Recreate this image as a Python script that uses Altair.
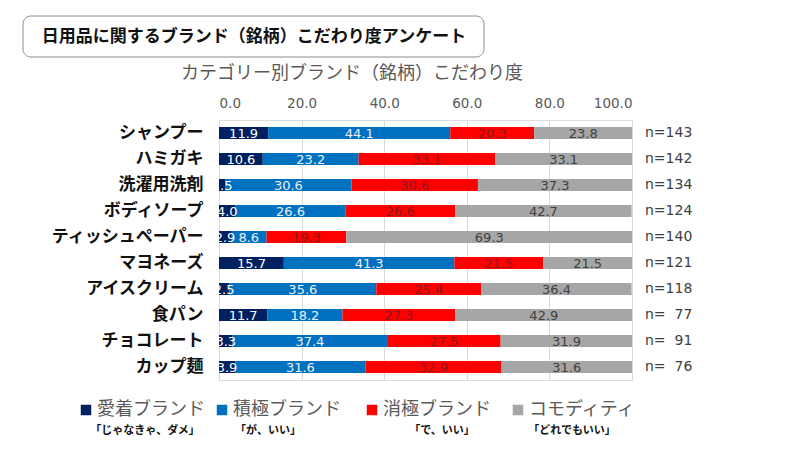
import altair as alt
import pandas as pd

categories = ["シャンプー", "ハミガキ", "洗濯用洗剤", "ボディソープ", "ティッシュペーパー",
              "マヨネーズ", "アイスクリーム", "食パン", "チョコレート", "カップ麺"]
series = ["愛着ブランド", "積極ブランド", "消極ブランド", "コモディティ"]
sublabels = ["「じゃなきゃ、ダメ」", "「が、いい」", "「で、いい」", "「どれでもいい」"]
aichaku = [11.9, 10.6, 1.5, 4.0, 2.9, 15.7, 2.5, 11.7, 3.3, 3.9]
sekkyoku = [44.1, 23.2, 30.6, 26.6, 8.6, 41.3, 35.6, 18.2, 37.4, 31.6]
shokyoku = [20.3, 33.1, 30.6, 26.6, 19.3, 21.5, 25.4, 27.3, 27.5, 32.9]
commodity = [23.8, 33.1, 37.3, 42.7, 69.3, 21.5, 36.4, 42.9, 31.9, 31.6]
n_values = [143, 142, 134, 124, 140, 121, 118, 77, 91, 76]

colors = ["#002060", "#0070C0", "#FF0000", "#A6A6A6"]
text_colors = ["#FFFFFF", "#E8F1FA", "#8B1A1A", "#404040"]

rows = []
for s_i, vals in enumerate([aichaku, sekkyoku, shokyoku, commodity]):
    for c, v in zip(categories, vals):
        rows.append({"category": c, "series": series[s_i], "ord": s_i, "value": v,
                     "tcolor": text_colors[s_i]})
df = pd.DataFrame(rows)

ndf = pd.DataFrame({"category": categories,
                    "nlabel": [("n=" + ("\u2007" if n < 100 else "") + str(n)) for n in n_values]})

JP = "Noto Sans CJK JP"
W, H = 413, 260
OX, OY = 219, 120  # plot origin on page (for decorations)

yenc = alt.Y("category:N", sort=categories,
             scale=alt.Scale(paddingInner=0.5, paddingOuter=0.25),
             axis=alt.Axis(title=None, domain=False, ticks=False, labelFont=JP,
                           labelFontSize=17, labelFontWeight="bold", labelColor="#111111",
                           labelPadding=16, grid=False))

base = alt.Chart(df)

bars = base.mark_bar(size=12).encode(
    y=yenc,
    x=alt.X("value:Q", stack="zero",
            scale=alt.Scale(domain=[0, 100], nice=False, clamp=True),
            axis=alt.Axis(title=None, orient="top", values=[0, 20, 40, 60, 80, 100],
                          format=".1f", domain=False, ticks=False, labelPadding=10,
                          labelFont="DejaVu Sans", labelFontSize=13.5, labelColor="#595959",
                          gridColor="#D9D9D9", gridWidth=1)),
    color=alt.Color("series:N", scale=alt.Scale(domain=series, range=colors), legend=None),
    order=alt.Order("ord:Q"),
)

labels = base.transform_stack(
    stack="value", groupby=["category"], as_=["x0", "x1"],
    sort=[alt.SortField("ord", order="ascending")]
).transform_calculate(mid="(datum.x0 + datum.x1) / 2").mark_text(
    font="DejaVu Sans", fontSize=13, baseline="middle", align="center", dy=1
).encode(
    y=alt.Y("category:N", sort=categories),
    x=alt.X("mid:Q"),
    text=alt.Text("value:Q", format=".1f"),
    color=alt.Color("tcolor:N", scale=None),
)

nlab = alt.Chart(ndf).mark_text(
    font="DejaVu Sans", fontSize=14, align="left", baseline="middle", color="#404040"
).encode(
    y=alt.Y("category:N", sort=categories),
    x=alt.value(645 - OX),
    text="nlabel:N",
)

deco_df = pd.DataFrame({"k": [0]})
deco = alt.Chart(deco_df)

box = deco.mark_rect(cornerRadius=8, fill="white", stroke="#8C8C8C", strokeWidth=1).encode(
    x=alt.value(23 - OX), x2=alt.value(484 - OX), y=alt.value(16 - OY), y2=alt.value(57 - OY))
title = deco.mark_text(font=JP, fontSize=17, fontWeight="bold", color="#111111",
                       align="center", baseline="middle").encode(
    x=alt.value(254 - OX), y=alt.value(37 - OY),
    text=alt.value("日用品に関するブランド（銘柄）こだわり度アンケート"))
subtitle = deco.mark_text(font=JP, fontSize=18, color="#595959",
                          align="center", baseline="middle").encode(
    x=alt.value(352 - OX), y=alt.value(74 - OY),
    text=alt.value("カテゴリー別ブランド（銘柄）こだわり度"))

layers = [box, title, subtitle, bars, labels, nlab]

sq_x = [86, 222, 372, 518]
sub_x = [145, 268, 442, 572]
for i in range(4):
    layers.append(deco.mark_square(size=110, opacity=1, color=colors[i]).encode(
        x=alt.value(sq_x[i] - OX), y=alt.value(410 - OY)))
    layers.append(deco.mark_text(font=JP, fontSize=18, color="#595959",
                                 align="left", baseline="middle").encode(
        x=alt.value(sq_x[i] + 11 - OX), y=alt.value(410 - OY), text=alt.value(series[i])))
    layers.append(deco.mark_text(font=JP, fontSize=11, fontWeight="bold", color="#111111",
                                 align="center", baseline="middle").encode(
        x=alt.value(sub_x[i] - OX), y=alt.value(431 - OY), text=alt.value(sublabels[i])))

chart = alt.layer(*layers).properties(
    width=W, height=H,
    autosize=alt.AutoSizeParams(type="none"),
    padding={"left": OX - 8, "top": OY - 8, "right": 784 - (OX - 8) - W, "bottom": 434 - (OY - 8) - H},
).configure_view(stroke=None).configure(background="white")

chart.save("out.html", embed_options={"renderer": "svg", "actions": False})
